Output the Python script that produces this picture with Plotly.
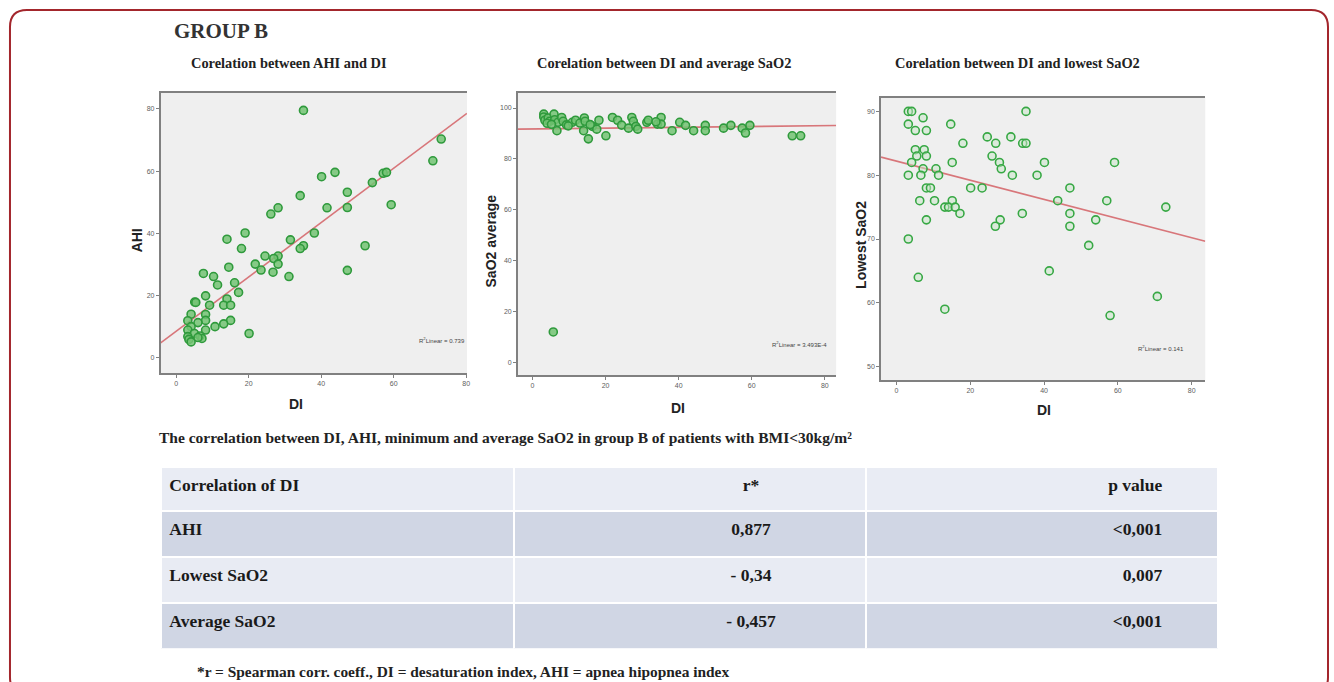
import numpy as np
import plotly.graph_objects as go

# ---------------- data ----------------
# Panel 1: DI vs AHI
ahi_di = [35.1, 73.1, 70.8, 57.1, 58.0, 43.8, 40.1, 54.1, 34.2, 47.2, 47.2, 41.6, 59.3, 28.1, 26.1, 19.0,
          38.1, 14.0, 31.5, 35.1, 34.2, 52.1, 18.0, 24.5, 28.1, 26.9, 28.1, 21.8, 14.5, 23.4, 26.7, 31.1,
          47.2, 7.5, 10.3, 11.4, 16.1, 17.2, 8.1, 14.0, 5.1, 5.4, 9.2, 13.1, 15.0, 4.1, 8.1, 3.2, 8.1,
          6.0, 15.0, 13.1, 10.7, 4.1, 8.1, 3.2, 20.1, 5.0, 3.2, 6.6, 7.1, 3.5, 4.1, 6.0]
ahi = [79.5, 70.3, 63.3, 59.3, 59.6, 59.6, 58.2, 56.3, 52.1, 53.2, 48.3, 48.2, 49.2, 48.2, 46.2, 40.1,
       40.1, 38.1, 37.9, 36.0, 35.1, 36.0, 35.1, 32.7, 32.7, 31.9, 30.1, 30.1, 29.1, 28.2, 27.5, 26.1,
       28.1, 27.1, 26.1, 23.4, 24.1, 21.0, 19.9, 18.9, 17.9, 17.8, 16.9, 16.9, 16.9, 14.0, 13.9, 11.9, 12.0,
       11.3, 12.0, 10.9, 10.0, 10.0, 8.9, 8.9, 7.8, 7.8, 6.8, 7.0, 6.2, 5.9, 5.1, 6.5]
fit_ahi = [8.55, 0.873]          # intercept, slope of linear fit
r2_ahi = "0.739"

# Panel 2: DI vs average SaO2
avg_di = [5.7, 3.1, 3.1, 3.4, 4.3, 4.7, 5.9, 6.1, 7.0, 6.7, 8.0, 8.4, 9.3, 10.9, 11.8, 13.0, 14.2, 14.4,
          14.0, 15.3, 16.4, 17.6, 18.2, 20.1, 21.9, 23.3, 24.4, 26.3, 27.2, 27.6, 28.3, 28.8, 31.3, 31.7,
          34.2, 35.2, 35.2, 38.2, 40.3, 41.9, 44.1, 47.3, 47.3, 52.3, 54.3, 57.4, 58.3, 59.5, 71.1, 73.4,
          4.0, 5.2, 9.8, 15.8, 33.8]
avg_sao2 = [12.1, 97.6, 96.5, 95.2, 96.1, 94.8, 97.6, 95.4, 94.4, 91.1, 96.3, 94.8, 93.4, 94.4, 95.2, 94.1,
            96.1, 94.8, 91.1, 87.9, 92.8, 91.7, 95.2, 89.1, 96.3, 95.2, 93.3, 92.1, 96.3, 94.8, 92.8, 91.7,
            94.4, 95.2, 93.7, 96.3, 93.7, 91.1, 94.4, 93.2, 91.1, 93.2, 91.1, 92.1, 93.2, 92.1, 90.2, 93.2,
            89.1, 89.1, 94.0, 93.6, 93.0, 93.5, 94.6]
fit_avg = [91.8, 0.016]
r2_avg = "3.493E-4"

# Panel 3: DI vs lowest SaO2
low_di = [3.2, 4.1, 7.2, 35.1, 3.2, 14.7, 5.1, 8.1, 24.6, 31.0, 18.0, 26.9, 34.2, 35.1, 5.1, 7.5, 5.5, 8.1,
          25.9, 4.1, 15.1, 27.9, 40.1, 59.1, 7.2, 10.7, 28.4, 3.2, 6.6, 11.4, 31.4, 38.1, 8.1, 9.2, 20.1,
          23.2, 47.0, 6.3, 10.3, 15.1, 43.7, 57.0, 13.1, 14.1, 15.9, 73.0, 17.2, 34.1, 47.0, 8.1, 28.1,
          54.0, 26.8, 47.0, 3.2, 52.1, 41.4, 5.9, 70.7, 13.1, 57.9]
low_sao2 = [90, 90, 89, 90, 88, 88, 87, 87, 86, 86, 85, 85, 85, 85, 84, 84, 83, 83, 83, 82, 82, 82, 82, 82,
            81, 81, 81, 80, 80, 80, 80, 80, 78, 78, 78, 78, 78, 76, 76, 76, 76, 76, 75, 75, 75, 75, 74, 74,
            74, 73, 73, 73, 72, 72, 70, 69, 65, 64, 61, 59, 58]
fit_low = [82.2, -0.150]
r2_low = "0.141"

# Table
table_header = ["Correlation of DI", "r*", "p value"]
row_labels = ["AHI", "Lowest SaO2", "Average SaO2"]
r_values = ["0,877", "- 0,34", "- 0,457"]
p_values = ["&lt;0,001", "0,007", "&lt;0,001"]

# ---------------- figure ----------------
W, H = 1334, 682
fig = go.Figure()

SERIF = "Liberation Serif"
SANS = "Liberation Sans"

panels = [
    dict(x=ahi_di, y=ahi, fit=fit_ahi, r2=r2_ahi, xr=[-4.3, 80.2], yr=[-4.9, 85.1],
         yt=[0, 20, 40, 60, 80], xt=[0, 20, 40, 60, 80],
         dom_px=(161, 468, 93, 373), ytitle="AHI", fill="rgba(115,195,115,0.85)", line="#2f9a3c",
         ytx=-0.076, yty=0.475, dix=0.443, diy=-0.11, r2x=0.92, r2y=0.118),
    dict(x=avg_di, y=avg_sao2, fit=fit_avg, r2=r2_avg, xr=[-4.0, 83.1], yr=[-4.8, 105.9],
         yt=[0, 20, 40, 60, 80, 100], xt=[0, 20, 40, 60, 80],
         dom_px=(519, 838, 93, 375), ytitle="SaO2 average", fill="rgba(115,195,115,0.85)", line="#2f9a3c",
         ytx=-0.083, yty=0.475, dix=0.504, diy=-0.117, r2x=0.884, r2y=0.11),
    dict(x=low_di, y=low_sao2, fit=fit_low, r2=r2_low, xr=[-4.2, 83.7], yr=[47.9, 92.1],
         yt=[50, 60, 70, 80, 90], xt=[0, 20, 40, 60, 80],
         dom_px=(883, 1208, 98, 380), ytitle="Lowest SaO2", fill="rgba(200,230,200,0.5)", line="#37a844",
         ytx=-0.064, yty=0.48, dix=0.502, diy=-0.107, r2x=0.862, r2y=0.114),
]

annotations = []
for i, p in enumerate(panels, start=1):
    xa = "x" if i == 1 else f"x{i}"
    ya = "y" if i == 1 else f"y{i}"
    xs = np.array(p["xr"])
    fig.add_trace(go.Scatter(x=xs, y=p["fit"][0] + p["fit"][1] * xs, mode="lines",
                             line=dict(color="#d8767a", width=1.6), xaxis=xa, yaxis=ya,
                             hoverinfo="skip"))
    fig.add_trace(go.Scatter(x=p["x"], y=p["y"], mode="markers", xaxis=xa, yaxis=ya,
                             marker=dict(size=8, color=p["fill"], line=dict(color=p["line"], width=1.6))))
    l, r, t, b = p["dom_px"]
    axis_common = dict(showgrid=False, zeroline=False, showline=True, linecolor="#808080", linewidth=1.5,
                       ticks="outside", ticklen=3, tickcolor="#808080",
                       tickfont=dict(family=SANS, size=7, color="#606060"))
    fig.update_layout(**{
        ("xaxis" if i == 1 else f"xaxis{i}"): dict(domain=[l / W, r / W], range=p["xr"], tickvals=p["xt"],
                                                    anchor=ya, mirror=True, **axis_common),
        ("yaxis" if i == 1 else f"yaxis{i}"): dict(domain=[1 - b / H, 1 - t / H], range=p["yr"],
                                                    tickvals=p["yt"], anchor=xa, **axis_common),
    })
    dref_x = f"{xa} domain"
    dref_y = f"{ya} domain"
    annotations.append(dict(text=f"<b>{p['ytitle']}</b>", textangle=-90, x=p["ytx"], y=p["yty"], xref=dref_x,
                            yref=dref_y, xanchor="center", yanchor="middle", showarrow=False,
                            font=dict(family=SANS, size=14, color="#222")))
    annotations.append(dict(text="<b>DI</b>", x=p["dix"], y=p["diy"], xref=dref_x, yref=dref_y,
                            xanchor="center", yanchor="middle", showarrow=False,
                            font=dict(family=SANS, size=14, color="#222")))
    annotations.append(dict(text=f"R<sup>2</sup>Linear = {p['r2']}", x=p["r2x"], y=p["r2y"], xref=dref_x,
                            yref=dref_y, xanchor="center", yanchor="middle", showarrow=False,
                            font=dict(family=SANS, size=6, color="#444")))

# Titles
annotations.append(dict(text="<b>GROUP B</b>", x=172 / W, y=1 - 31 / H, xref="paper", yref="paper",
                        xanchor="left", yanchor="middle", showarrow=False,
                        font=dict(family=SERIF, size=21, color="#333")))
for cx, txt in [(290, "Corelation between AHI and DI"), (665, "Corelation between DI and average SaO2"),
                (1020, "Corelation between DI and lowest SaO2")]:
    annotations.append(dict(text=f"<b>{txt}</b>", x=cx / W, y=1 - 63 / H, xref="paper", yref="paper",
                            xanchor="center", yanchor="middle", showarrow=False,
                            font=dict(family=SERIF, size=14.4, color="#222")))
annotations.append(dict(
    text="<b>The correlation between DI, AHI, minimum and average SaO2 in group B of patients with BMI&lt;30kg/m²</b>",
    x=157 / W, y=1 - 437 / H, xref="paper", yref="paper", xanchor="left", yanchor="middle", showarrow=False,
    font=dict(family=SERIF, size=15.5, color="#222")))
annotations.append(dict(
    text="<b>*r = Spearman corr. coeff., DI = desaturation index, AHI = apnea hipopnea index</b>",
    x=195 / W, y=1 - 671 / H, xref="paper", yref="paper", xanchor="left", yanchor="middle", showarrow=False,
    font=dict(family=SERIF, size=15.4, color="#222")))

# Table
NB = "\u00a0"
def col2(s):
    return "<b>" + NB * 28 + s + "</b>"
def col3(s):
    return "<b>" + s + NB * 11 + "</b>"

row_fill = ["#d0d6e4", "#e8ebf3", "#d0d6e4"]
fig.add_trace(go.Table(
    domain=dict(x=[161.7 / W, 1221.7 / W], y=[1 - 649.3 / H, 1 - 466.7 / H]),
    columnwidth=[1, 1, 1],
    header=dict(values=["<b>" + table_header[0] + "</b>", col2(table_header[1]), col3(table_header[2])],
                fill_color="#e9ecf4", line=dict(color="white", width=2), height=44,
                align=["left", "center", "right"],
                font=dict(family=SERIF, size=17.5, color="#1a1a1a")),
    cells=dict(values=[["<b>" + s + "</b>" for s in row_labels], [col2(s) for s in r_values],
                       [col3(s) for s in p_values]],
               fill_color=[row_fill] * 3, line=dict(color="white", width=2), height=46,
               align=["left", "center", "right"],
               font=dict(family=SERIF, size=17.5, color="#1a1a1a")),
))

# Rounded red frame
x0, x1 = 10 / W, 1331 / W
yt, yb = 1 - 10 / H, 1 - 694 / H
rx, ry = 17 / W, 17 / H
path = (f"M {x0 + rx},{yt} L {x1 - rx},{yt} Q {x1},{yt} {x1},{yt - ry} L {x1},{yb + ry} "
        f"Q {x1},{yb} {x1 - rx},{yb} L {x0 + rx},{yb} Q {x0},{yb} {x0},{yb + ry} "
        f"L {x0},{yt - ry} Q {x0},{yt} {x0 + rx},{yt} Z")

fig.update_layout(
    width=W, height=H, margin=dict(l=0, r=0, t=0, b=0),
    paper_bgcolor="white", plot_bgcolor="#efefef", showlegend=False,
    annotations=annotations,
    shapes=[dict(type="path", path=path, xref="paper", yref="paper", line=dict(color="#a3262c", width=2),
                 layer="below")],
)

fig.write_html("out.html", config={"displayModeBar": False},
               post_script="document.body.style.margin='0';document.body.style.overflow='hidden';")
